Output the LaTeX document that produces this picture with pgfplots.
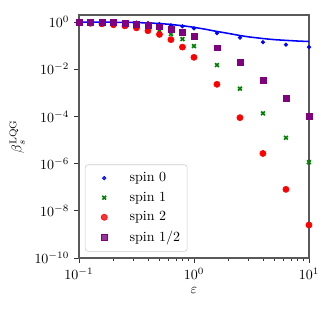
\documentclass[border=0pt]{standalone}
\usepackage{pgfplots}
\pgfplotsset{compat=1.18}
\definecolor{mplgreen}{rgb}{0,0.5,0}
\definecolor{mplpurple}{rgb}{0.5,0,0.5}
\begin{document}
\begin{tikzpicture}
\begin{axis}[
  scale only axis,
  width=164.3pt, height=173.6pt,
  xmode=log, ymode=log,
  xmin=0.1, xmax=10,
  ymin=1e-10, ymax=2,
  ytick={1e-10,1e-8,1e-6,1e-4,1e-2,1},
  yminorticks=false,
  tick align=outside,
  xtick pos=bottom, ytick pos=left,
  major tick length=3.5pt, minor tick length=2pt,
  axis line style={black!65, line width=0.8pt},
  every tick/.style={black!80, line width=0.6pt},
  xlabel={$\varepsilon$},
  ylabel={$\beta_s^{\mathrm{LQG}}$},
  xlabel style={yshift=1pt},
  legend image code/.code={\path (0pt,0pt) (25.5pt,0pt); \draw[mark repeat=1,#1] plot coordinates {(10pt,0pt)};},
  legend style={at={(0.026,0.026)}, anchor=south west, draw=black!20, rounded corners=2pt,
    fill=white, fill opacity=0.8, text opacity=1, row sep=1.8pt, inner xsep=3pt, inner ysep=3.5pt,
    nodes={inner sep=2pt}},
  legend cell align=left,
]
\addplot[only marks, mark=*, mark size=1.3pt, blue] coordinates {
(0.1,1.0) (0.1259,0.995) (0.1585,0.99) (0.1995,0.98) (0.2512,0.97) (0.3162,0.95) (0.3981,0.91) (0.5012,0.82)
(0.6310,0.73) (0.7943,0.66) (1.0,0.54) (1.585,0.34) (2.512,0.22) (3.981,0.14) (6.310,0.11) (10.0,0.087)};
\addlegendentry{spin 0}
\addplot[only marks, mark=x, mark size=1.9pt, line width=1.2pt, mplgreen] coordinates {
(0.1,0.99) (0.1259,0.98) (0.1585,0.97) (0.1995,0.95) (0.2512,0.91) (0.3162,0.79) (0.3981,0.65) (0.5012,0.42)
(0.6310,0.31) (0.7943,0.19) (1.0,0.096) (1.585,0.015) (2.512,1.5e-3) (3.981,1.35e-4) (6.310,1.25e-5) (10.0,1.15e-6)};
\addlegendentry{spin 1}
\addplot[only marks, mark=*, mark size=2.2pt, red] coordinates {
(0.1,0.93) (0.1259,0.89) (0.1585,0.84) (0.1995,0.77) (0.2512,0.69) (0.3162,0.57) (0.3981,0.43) (0.5012,0.30)
(0.6310,0.18) (0.7943,0.087) (1.0,0.032) (1.585,2.3e-3) (2.512,8.9e-5) (3.981,2.7e-6) (6.310,8.1e-8) (10.0,2.5e-9)};
\addlegendentry{spin 2}
\addplot[only marks, mark=square*, mark size=2.1pt, mplpurple] coordinates {
(0.1,0.98) (0.1259,0.97) (0.1585,0.96) (0.1995,0.94) (0.2512,0.90) (0.3162,0.84) (0.3981,0.75) (0.5012,0.63)
(0.6310,0.50) (0.7943,0.38) (1.0,0.26) (1.585,0.081) (2.512,0.019) (3.981,3.5e-3) (6.310,5.9e-4) (10.0,9.8e-5)};
\addlegendentry{spin 1/2}
\addplot[forget plot, blue, line width=1.1pt] coordinates {
(0.1,1.0) (0.15,0.995) (0.2,0.985) (0.3,0.96) (0.4,0.92) (0.5,0.87) (0.6,0.81) (0.7,0.75) (0.8,0.70)
(1.0,0.60) (1.25,0.50) (1.5,0.42) (2.0,0.33) (2.5,0.27) (3.0,0.235) (4.0,0.20) (5.0,0.18) (6.3,0.168) (8.0,0.157) (10.0,0.15)};
\end{axis}
\path (current axis.south west) ++(-56.4pt,-40pt) rectangle ([shift={(17.9pt,10.7pt)}]current axis.north east);
\end{tikzpicture}
\end{document}
